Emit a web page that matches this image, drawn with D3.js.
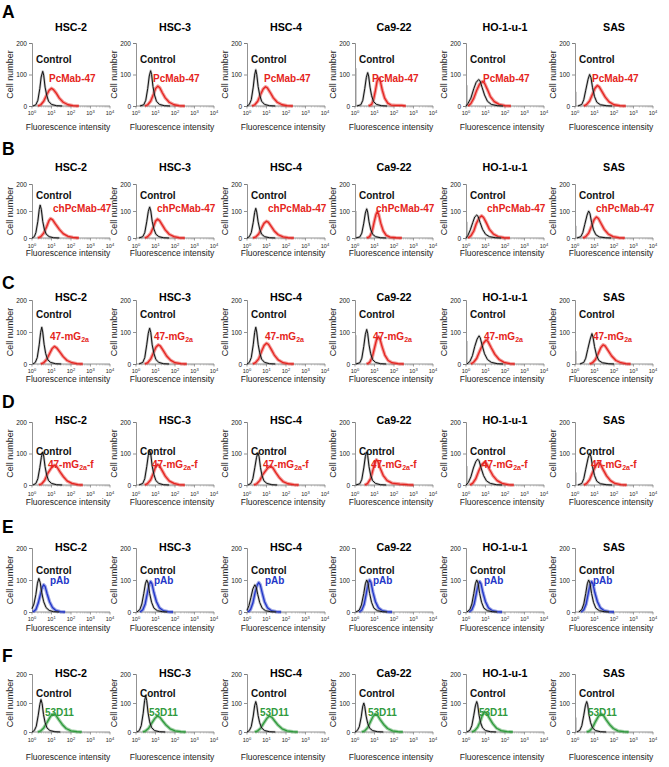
<!DOCTYPE html>
<html>
<head>
<meta charset="utf-8">
<script src="https://cdn.jsdelivr.net/npm/d3@7"></script>
<style>
body { margin: 0; background: #fff; }
text { font-family: Arial, "Liberation Sans", Helvetica, sans-serif; }
</style>
</head>
<body>
<svg id="fig" width="669" height="767"></svg>
<script>
// ---- data ----
var cellLines = ["HSC-2", "HSC-3", "HSC-4", "Ca9-22", "HO-1-u-1", "SAS"];
var rowLetters = ["A", "B", "C", "D", "E", "F"];
// antibody label: [main text, subscript, suffix]
var antibodies = [["PcMab-47", "", ""], ["chPcMab-47", "", ""], ["47-mG", "2a", ""],
                  ["47-mG", "2a", "-f"], ["pAb", "", ""], ["53D11", "", ""]];
var yTickValues = [0, 100, 200];
var xDecades = [0, 1, 2, 3, 4];

// histograms: [log10 fluorescence, cell number]
var ctrlA = [
  [[0.05,0],[0.2,4],[0.3,18],[0.4,55],[0.47,92],[0.55,110],[0.6,98],[0.67,60],[0.75,35],[0.85,15],[1.0,5],[1.25,1],[1.55,0]],
  [[0.2,0],[0.4,4],[0.5,18],[0.6,55],[0.68,95],[0.75,112],[0.8,100],[0.87,62],[0.95,35],[1.05,15],[1.2,5],[1.45,1],[1.75,0]],
  [[0.0,0],[0.12,5],[0.22,20],[0.32,60],[0.39,98],[0.45,115],[0.5,100],[0.57,62],[0.65,35],[0.75,15],[0.9,5],[1.15,1],[1.45,0]],
  [[0.1,0],[0.3,4],[0.4,18],[0.5,55],[0.58,90],[0.65,106],[0.7,95],[0.77,60],[0.85,33],[0.95,14],[1.1,5],[1.35,1],[1.65,0]],
  [[0.0,0],[0.1,8],[0.25,25],[0.4,55],[0.52,75],[0.65,84],[0.72,80],[0.82,60],[0.95,35],[1.1,15],[1.3,5],[1.6,1],[1.9,0]],
  [[0.15,0],[0.35,5],[0.45,20],[0.55,50],[0.67,85],[0.75,100],[0.82,90],[0.9,58],[1.0,30],[1.12,12],[1.3,4],[1.6,1],[1.9,0]]
];
var sampA = [
  [[0.3,0],[0.45,4],[0.6,15],[0.75,35],[0.88,50],[1.0,56],[1.1,52],[1.25,40],[1.4,25],[1.6,12],[1.85,4],[2.1,1],[2.4,0]],
  [[0.45,0],[0.6,4],[0.75,15],[0.9,38],[1.0,55],[1.12,63],[1.22,58],[1.35,42],[1.5,26],[1.7,12],[1.95,4],[2.2,1],[2.5,0]],
  [[0.25,0],[0.4,4],[0.55,15],[0.7,37],[0.83,54],[0.95,61],[1.05,57],[1.2,42],[1.35,26],[1.55,12],[1.8,4],[2.05,1],[2.35,0]],
  [[0.7,0],[0.85,5],[0.95,20],[1.05,50],[1.13,78],[1.22,88],[1.3,78],[1.4,50],[1.52,25],[1.68,9],[1.85,3],[2.1,2],[2.4,2],[2.6,0]],
  [[0.1,0],[0.25,8],[0.4,25],[0.55,50],[0.7,70],[0.85,78],[0.95,72],[1.1,52],[1.25,30],[1.45,14],[1.7,5],[2.0,1],[2.3,0]],
  [[0.45,0],[0.6,5],[0.75,16],[0.9,38],[1.03,57],[1.15,65],[1.25,60],[1.4,44],[1.55,28],[1.75,13],[2.0,4],[2.3,1],[2.6,0]]
];
var ctrlB = [
  [[0.0,0],[0.12,5],[0.2,20],[0.3,62],[0.37,105],[0.42,122],[0.48,105],[0.55,62],[0.63,33],[0.73,14],[0.88,5],[1.1,1],[1.4,0]],
  [[0.15,0],[0.35,5],[0.45,20],[0.55,60],[0.63,98],[0.7,115],[0.76,100],[0.83,62],[0.92,33],[1.02,14],[1.17,5],[1.4,1],[1.7,0]],
  [[0.0,0],[0.12,5],[0.22,20],[0.32,58],[0.39,94],[0.45,110],[0.5,96],[0.57,60],[0.65,33],[0.75,14],[0.9,5],[1.15,1],[1.45,0]],
  [[0.05,0],[0.25,4],[0.35,18],[0.45,55],[0.53,92],[0.6,108],[0.65,96],[0.72,60],[0.8,33],[0.9,14],[1.05,5],[1.3,1],[1.6,0]],
  [[0.0,0],[0.1,10],[0.22,30],[0.35,58],[0.45,78],[0.55,85],[0.62,80],[0.72,58],[0.85,32],[1.0,14],[1.2,5],[1.5,1],[1.8,0]],
  [[0.1,0],[0.3,5],[0.4,20],[0.5,50],[0.62,85],[0.7,100],[0.77,90],[0.85,58],[0.95,30],[1.07,12],[1.25,4],[1.55,1],[1.85,0]]
];
var sampB = [
  [[0.3,0],[0.45,5],[0.6,18],[0.75,42],[0.87,64],[0.95,72],[1.05,68],[1.2,52],[1.4,32],[1.6,16],[1.85,6],[2.1,2],[2.4,0]],
  [[0.45,0],[0.6,5],[0.75,17],[0.9,42],[1.0,62],[1.1,70],[1.2,65],[1.35,48],[1.5,30],[1.7,14],[1.95,5],[2.2,1],[2.5,0]],
  [[0.3,0],[0.45,4],[0.6,15],[0.75,37],[0.88,55],[1.0,62],[1.1,58],[1.25,42],[1.4,26],[1.6,12],[1.85,4],[2.1,1],[2.4,0]],
  [[0.6,0],[0.75,5],[0.87,22],[0.97,55],[1.07,86],[1.15,98],[1.22,86],[1.32,55],[1.45,26],[1.6,10],[1.8,3],[2.1,1],[2.4,0]],
  [[0.1,0],[0.25,8],[0.4,26],[0.52,52],[0.67,74],[0.8,82],[0.9,76],[1.05,55],[1.2,32],[1.4,15],[1.65,5],[1.95,1],[2.25,0]],
  [[0.4,0],[0.55,5],[0.7,18],[0.85,44],[0.98,68],[1.1,78],[1.2,72],[1.35,52],[1.5,32],[1.7,15],[1.95,5],[2.25,1],[2.55,0]]
];
var ctrlC = [
  [[0.05,0],[0.17,5],[0.27,20],[0.37,60],[0.44,98],[0.5,115],[0.55,100],[0.62,62],[0.7,33],[0.8,14],[0.95,5],[1.2,1],[1.5,0]],
  [[0.15,0],[0.35,5],[0.45,20],[0.55,60],[0.63,96],[0.7,112],[0.76,98],[0.83,60],[0.92,33],[1.02,14],[1.17,5],[1.4,1],[1.7,0]],
  [[0.0,0],[0.12,5],[0.22,20],[0.32,60],[0.39,98],[0.45,115],[0.5,100],[0.57,62],[0.65,35],[0.75,15],[0.9,5],[1.15,1],[1.45,0]],
  [[0.05,0],[0.25,4],[0.35,18],[0.45,55],[0.53,92],[0.6,108],[0.65,96],[0.72,60],[0.8,33],[0.9,14],[1.05,5],[1.3,1],[1.6,0]],
  [[0.05,0],[0.2,8],[0.33,26],[0.45,55],[0.57,78],[0.67,88],[0.73,82],[0.83,58],[0.95,32],[1.1,14],[1.3,5],[1.6,1],[1.9,0]],
  [[0.25,0],[0.45,5],[0.55,18],[0.65,45],[0.78,78],[0.87,95],[0.93,82],[1.0,55],[1.1,28],[1.22,11],[1.4,4],[1.7,1],[2.0,0]]
];
var sampC = [
  [[0.45,0],[0.6,4],[0.75,14],[0.9,32],[1.03,48],[1.15,55],[1.27,50],[1.42,38],[1.6,23],[1.8,11],[2.05,4],[2.3,1],[2.6,0]],
  [[0.45,0],[0.6,4],[0.75,15],[0.9,36],[1.03,53],[1.15,60],[1.25,56],[1.4,42],[1.57,25],[1.77,12],[2.0,4],[2.3,1],[2.6,0]],
  [[0.3,0],[0.45,5],[0.6,16],[0.75,40],[0.88,58],[1.0,65],[1.1,61],[1.25,45],[1.4,28],[1.6,13],[1.85,4],[2.1,1],[2.4,0]],
  [[0.6,0],[0.75,5],[0.88,20],[1.0,50],[1.1,75],[1.2,85],[1.28,78],[1.4,52],[1.53,28],[1.7,11],[1.9,4],[2.2,1],[2.5,0]],
  [[0.25,0],[0.4,6],[0.55,18],[0.7,40],[0.88,64],[1.03,75],[1.13,70],[1.3,50],[1.48,30],[1.7,14],[1.95,5],[2.25,1],[2.5,0]],
  [[0.75,0],[0.9,4],[1.05,14],[1.2,34],[1.33,52],[1.44,60],[1.55,56],[1.7,42],[1.88,25],[2.1,11],[2.35,4],[2.6,1],[2.85,0]]
];
var ctrlD = [
  [[0.05,0],[0.2,5],[0.3,20],[0.4,55],[0.48,88],[0.55,105],[0.6,92],[0.67,58],[0.75,32],[0.85,14],[1.0,5],[1.25,1],[1.55,0]],
  [[0.15,0],[0.35,5],[0.45,20],[0.55,58],[0.63,94],[0.7,110],[0.76,97],[0.83,60],[0.92,33],[1.02,14],[1.17,5],[1.4,1],[1.7,0]],
  [[0.05,0],[0.2,5],[0.3,20],[0.4,55],[0.49,88],[0.56,102],[0.62,90],[0.69,56],[0.77,30],[0.87,13],[1.02,5],[1.27,1],[1.55,0]],
  [[0.05,0],[0.25,4],[0.35,18],[0.45,54],[0.53,90],[0.6,105],[0.65,94],[0.72,58],[0.8,32],[0.9,14],[1.05,5],[1.3,1],[1.6,0]],
  [[0.0,0],[0.12,8],[0.25,26],[0.38,54],[0.5,74],[0.6,82],[0.67,77],[0.77,55],[0.9,30],[1.05,13],[1.25,5],[1.55,1],[1.85,0]],
  [[0.15,0],[0.35,5],[0.45,20],[0.55,50],[0.67,85],[0.75,100],[0.82,90],[0.9,58],[1.0,30],[1.12,12],[1.3,4],[1.6,1],[1.9,0]]
];
var sampD = [
  [[0.35,0],[0.5,4],[0.65,15],[0.8,36],[1.0,55],[1.15,63],[1.27,58],[1.42,43],[1.6,27],[1.8,13],[2.05,5],[2.35,1],[2.6,0]],
  [[0.45,0],[0.6,5],[0.75,16],[0.9,39],[1.0,57],[1.1,65],[1.2,61],[1.35,45],[1.5,28],[1.7,13],[1.95,5],[2.2,1],[2.5,0]],
  [[0.35,0],[0.5,4],[0.65,14],[0.82,34],[1.05,53],[1.2,60],[1.32,55],[1.47,40],[1.65,24],[1.85,11],[2.1,4],[2.4,1],[2.65,0]],
  [[0.5,0],[0.65,5],[0.8,20],[0.92,48],[1.02,70],[1.1,80],[1.18,74],[1.3,52],[1.45,30],[1.65,14],[1.9,6],[2.3,3],[2.7,1],[3.0,0]],
  [[0.2,0],[0.35,6],[0.5,20],[0.65,44],[0.8,64],[0.95,72],[1.05,68],[1.2,50],[1.38,30],[1.6,14],[1.85,5],[2.15,1],[2.45,0]],
  [[0.45,0],[0.6,5],[0.75,17],[0.9,40],[1.07,62],[1.2,72],[1.3,67],[1.45,48],[1.62,29],[1.82,14],[2.05,5],[2.35,1],[2.65,0]]
];
var ctrlE = [
  [[0.0,10],[0.1,25],[0.2,55],[0.28,90],[0.35,105],[0.42,92],[0.5,60],[0.6,32],[0.72,14],[0.88,5],[1.1,1],[1.4,0]],
  [[0.05,0],[0.2,8],[0.3,25],[0.4,58],[0.48,88],[0.55,100],[0.62,90],[0.7,58],[0.8,30],[0.92,12],[1.1,4],[1.35,1],[1.6,0]],
  [[0.0,5],[0.1,20],[0.2,45],[0.3,72],[0.4,85],[0.47,78],[0.55,55],[0.65,30],[0.78,12],[0.95,4],[1.2,1],[1.5,0]],
  [[0.05,0],[0.22,6],[0.33,22],[0.45,58],[0.53,88],[0.6,100],[0.67,90],[0.75,58],[0.85,30],[0.97,12],[1.15,4],[1.4,1],[1.65,0]],
  [[0.05,0],[0.2,8],[0.3,25],[0.4,58],[0.48,88],[0.55,100],[0.62,90],[0.7,58],[0.8,30],[0.92,12],[1.1,4],[1.35,1],[1.6,0]],
  [[0.2,0],[0.35,8],[0.45,25],[0.55,58],[0.63,88],[0.7,100],[0.77,90],[0.85,58],[0.95,30],[1.07,12],[1.25,4],[1.5,1],[1.75,0]]
];
var sampE = [
  [[0.05,0],[0.2,8],[0.32,28],[0.45,60],[0.53,78],[0.6,85],[0.67,80],[0.77,58],[0.9,32],[1.05,14],[1.22,5],[1.45,1],[1.7,0]],
  [[0.2,0],[0.35,7],[0.47,25],[0.58,58],[0.67,85],[0.75,95],[0.82,88],[0.92,60],[1.05,32],[1.2,13],[1.4,4],[1.65,1],[1.9,0]],
  [[0.05,0],[0.18,8],[0.3,28],[0.42,62],[0.52,84],[0.6,92],[0.68,85],[0.78,60],[0.9,32],[1.05,13],[1.25,4],[1.5,1],[1.75,0]],
  [[0.2,0],[0.35,6],[0.47,24],[0.58,58],[0.67,88],[0.75,100],[0.82,92],[0.92,62],[1.05,32],[1.2,13],[1.4,4],[1.65,1],[1.9,0]],
  [[0.15,0],[0.3,7],[0.42,25],[0.53,58],[0.62,85],[0.7,95],[0.77,88],[0.87,60],[1.0,32],[1.15,13],[1.35,4],[1.6,1],[1.85,0]],
  [[0.3,0],[0.45,7],[0.57,25],[0.68,58],[0.77,85],[0.85,95],[0.92,88],[1.02,60],[1.15,32],[1.3,13],[1.5,4],[1.75,1],[2.0,0]]
];
var ctrlF = [
  [[0.0,0],[0.12,5],[0.22,20],[0.32,58],[0.4,95],[0.46,112],[0.52,98],[0.59,60],[0.67,33],[0.77,14],[0.92,5],[1.17,1],[1.45,0]],
  [[0.05,0],[0.17,5],[0.27,22],[0.37,65],[0.44,108],[0.5,125],[0.55,108],[0.62,66],[0.7,35],[0.8,15],[0.95,5],[1.2,1],[1.5,0]],
  [[0.0,0],[0.12,5],[0.22,19],[0.32,55],[0.39,90],[0.45,105],[0.5,92],[0.57,57],[0.65,32],[0.75,14],[0.9,5],[1.15,1],[1.45,0]],
  [[0.0,0],[0.12,5],[0.22,18],[0.32,52],[0.39,86],[0.45,100],[0.5,88],[0.57,55],[0.65,30],[0.75,13],[0.9,5],[1.15,1],[1.45,0]],
  [[0.05,0],[0.2,6],[0.3,22],[0.4,58],[0.48,90],[0.55,105],[0.6,94],[0.67,58],[0.75,32],[0.85,14],[1.0,5],[1.25,1],[1.55,0]],
  [[0.1,0],[0.25,6],[0.35,22],[0.45,58],[0.53,90],[0.6,105],[0.65,94],[0.72,58],[0.8,32],[0.9,14],[1.05,5],[1.3,1],[1.6,0]]
];
var sampF = [
  [[0.3,0],[0.45,4],[0.6,14],[0.78,34],[0.95,54],[1.1,62],[1.22,58],[1.38,42],[1.55,26],[1.75,12],[2.0,4],[2.3,1],[2.55,0]],
  [[0.35,0],[0.5,4],[0.65,13],[0.8,30],[0.97,47],[1.1,55],[1.22,51],[1.38,37],[1.55,23],[1.75,11],[2.0,4],[2.3,1],[2.55,0]],
  [[0.4,0],[0.55,4],[0.7,13],[0.85,30],[1.02,47],[1.15,55],[1.27,51],[1.43,37],[1.6,23],[1.8,11],[2.05,4],[2.35,1],[2.6,0]],
  [[0.35,0],[0.5,4],[0.65,15],[0.8,36],[0.93,54],[1.05,62],[1.15,58],[1.3,42],[1.47,26],[1.67,12],[1.92,4],[2.2,1],[2.45,0]],
  [[0.3,0],[0.45,5],[0.6,17],[0.75,40],[0.85,60],[0.95,70],[1.05,66],[1.2,48],[1.37,29],[1.57,13],[1.8,5],[2.1,1],[2.4,0]],
  [[0.6,0],[0.75,4],[0.9,15],[1.05,36],[1.2,54],[1.35,62],[1.45,58],[1.6,42],[1.77,26],[1.97,12],[2.2,4],[2.5,1],[2.75,0]]
];
// events piled in the first channel (grey spike on the y axis)
var spikeA = [0, 0, 0, 120, 66, 45];
var spikeB = [0, 0, 0, 100, 60, 45];
var spikeC = [0, 0, 0, 90, 72, 40];
var spikeD = [0, 0, 0, 80, 60, 40];
var spikeE = [0, 0, 0, 0, 0, 0];
var spikeF = [0, 0, 0, 0, 0, 50];

var controls = [ctrlA, ctrlB, ctrlC, ctrlD, ctrlE, ctrlF];
var samples = [sampA, sampB, sampC, sampD, sampE, sampF];
var spikes = [spikeA, spikeB, spikeC, spikeD, spikeE, spikeF];
var sampleColors = ["#e52420", "#e52420", "#e52420", "#e52420", "#2236c8", "#2f9a3c"];

// ---- layout ----
var colX = [32, 136, 247, 355, 466, 575];
var plotW = 78;
var rowLayout = [
  {letterY: 18,  titleY: 31,  y200: 43,  y0: 106, tickY: 115, axisY: 130, ctrlDy: 20, sampDy: 39, sampDx: 17},
  {letterY: 155, titleY: 171, y200: 184, y0: 238, tickY: 248, axisY: 256, ctrlDy: 15, sampDy: 28, sampDx: 21},
  {letterY: 289, titleY: 301, y200: 300, y0: 364, tickY: 373, axisY: 382, ctrlDy: 18, sampDy: 40, sampDx: 18},
  {letterY: 408, titleY: 424, y200: 422, y0: 485, tickY: 496, axisY: 505, ctrlDy: 33, sampDy: 46, sampDx: 16},
  {letterY: 533, titleY: 551, y200: 548, y0: 612, tickY: 621, axisY: 631, ctrlDy: 26, sampDy: 36, sampDx: 18},
  {letterY: 662, titleY: 677, y200: 674, y0: 732, tickY: 742, axisY: 760, ctrlDy: 23, sampDy: 42, sampDx: 13}
];

var svg = d3.select("#fig");

rowLayout.forEach(function(L, r) {
  svg.append("text")
    .attr("x", 2).attr("y", L.letterY)
    .attr("font-size", 17.5).attr("font-weight", "bold")
    .text(rowLetters[r]);

  cellLines.forEach(function(name, c) {
    var x0 = colX[c];
    var x = d3.scaleLinear().domain([0, 4]).range([x0, x0 + plotW]);
    var y = d3.scaleLinear().domain([0, 200]).range([L.y0, L.y200]);
    var g = svg.append("g");

    // title
    g.append("text")
      .attr("x", x0 + plotW / 2).attr("y", L.titleY)
      .attr("text-anchor", "middle")
      .attr("font-size", 10.7).attr("font-weight", "bold")
      .text(name);

    // y axis
    var yAxis = d3.axisLeft(y).tickValues(yTickValues).tickSize(3).tickPadding(2);
    var ya = g.append("g").attr("transform", "translate(" + x0 + ",0)").call(yAxis);
    ya.select(".domain").attr("stroke", "#777").attr("stroke-width", 0.8);
    ya.selectAll(".tick line").attr("stroke", "#777").attr("stroke-width", 0.8);
    ya.selectAll(".tick text").attr("font-size", 6.5).attr("fill", "#222")
      .attr("font-family", "Arial, 'Liberation Sans', sans-serif");

    // x axis, log decades with minor ticks
    var minor = [];
    for (var d = 0; d < 4; d++) {
      for (var m = 2; m < 10; m++) minor.push(d + Math.log10(m));
    }
    var xa = g.append("g").attr("transform", "translate(0," + L.y0 + ")");
    xa.append("line").attr("x1", x0).attr("x2", x0 + plotW)
      .attr("stroke", "#777").attr("stroke-width", 0.8);
    xa.selectAll("line.minor").data(minor).enter().append("line")
      .attr("class", "minor")
      .attr("x1", function(v) { return x(v); }).attr("x2", function(v) { return x(v); })
      .attr("y1", 0).attr("y2", 1.5).attr("stroke", "#999").attr("stroke-width", 0.5);
    xa.selectAll("line.major").data(xDecades).enter().append("line")
      .attr("class", "major")
      .attr("x1", function(v) { return x(v); }).attr("x2", function(v) { return x(v); })
      .attr("y1", 0).attr("y2", 2.5).attr("stroke", "#777").attr("stroke-width", 0.7);
    var lab = g.selectAll("text.xt").data(xDecades).enter().append("text")
      .attr("class", "xt")
      .attr("x", function(v) { return x(v); }).attr("y", L.tickY)
      .attr("text-anchor", "middle")
      .attr("font-size", 5.5).attr("fill", "#222");
    lab.append("tspan").text("10");
    lab.append("tspan").attr("dy", -2.2).attr("font-size", 4).text(function(v) { return v; });

    // axis titles
    g.append("text")
      .attr("x", x0 + plotW / 2 - 3).attr("y", L.axisY)
      .attr("text-anchor", "middle").attr("font-size", 8.5).attr("fill", "#222")
      .text("Fluorescence intensity");
    g.append("text")
      .attr("transform", "translate(" + (x0 - 19) + "," + ((L.y0 + L.y200) / 2) + ") rotate(-90)")
      .attr("text-anchor", "middle").attr("font-size", 9).attr("fill", "#222")
      .text("Cell number");

    // histograms
    var line = d3.line()
      .x(function(p) { return x(p[0]); })
      .y(function(p) { return y(p[1]); })
      .curve(d3.curveLinear);

    var sp = spikes[r][c];
    if (sp > 0) {
      g.append("line").attr("x1", x0 + 1).attr("x2", x0 + 1)
        .attr("y1", y(0)).attr("y2", y(sp))
        .attr("stroke", "#999").attr("stroke-width", 1);
    }
    // sample: soft wide band under a thin core, like the noisy FACS trace
    g.append("path").datum(samples[r][c]).attr("d", line)
      .attr("fill", "none").attr("stroke", sampleColors[r])
      .attr("stroke-width", 3.4).attr("stroke-opacity", 0.45).attr("stroke-linejoin", "round");
    g.append("path").datum(samples[r][c]).attr("d", line)
      .attr("fill", "none").attr("stroke", sampleColors[r])
      .attr("stroke-width", 1.3).attr("stroke-linejoin", "round");
    g.append("path").datum(controls[r][c]).attr("d", line)
      .attr("fill", "none").attr("stroke", "#888")
      .attr("stroke-width", 2.4).attr("stroke-opacity", 0.5).attr("stroke-linejoin", "round");
    g.append("path").datum(controls[r][c]).attr("d", line)
      .attr("fill", "none").attr("stroke", "#111")
      .attr("stroke-width", 1).attr("stroke-linejoin", "round");

    // labels
    g.append("text")
      .attr("x", x0 + 4).attr("y", L.y200 + L.ctrlDy)
      .attr("font-size", 10).attr("font-weight", "bold").attr("fill", "#111")
      .text("Control");
    var ab = antibodies[r];
    var st = g.append("text")
      .attr("x", x0 + L.sampDx).attr("y", L.y200 + L.sampDy)
      .attr("font-size", 10).attr("font-weight", "bold").attr("fill", sampleColors[r]);
    st.append("tspan").text(ab[0]);
    if (ab[1]) {
      st.append("tspan").attr("font-size", 7).attr("dy", 2).text(ab[1]);
      if (ab[2]) st.append("tspan").attr("dy", -2).text(ab[2]);
    }
  });
});
</script>
</body>
</html>
